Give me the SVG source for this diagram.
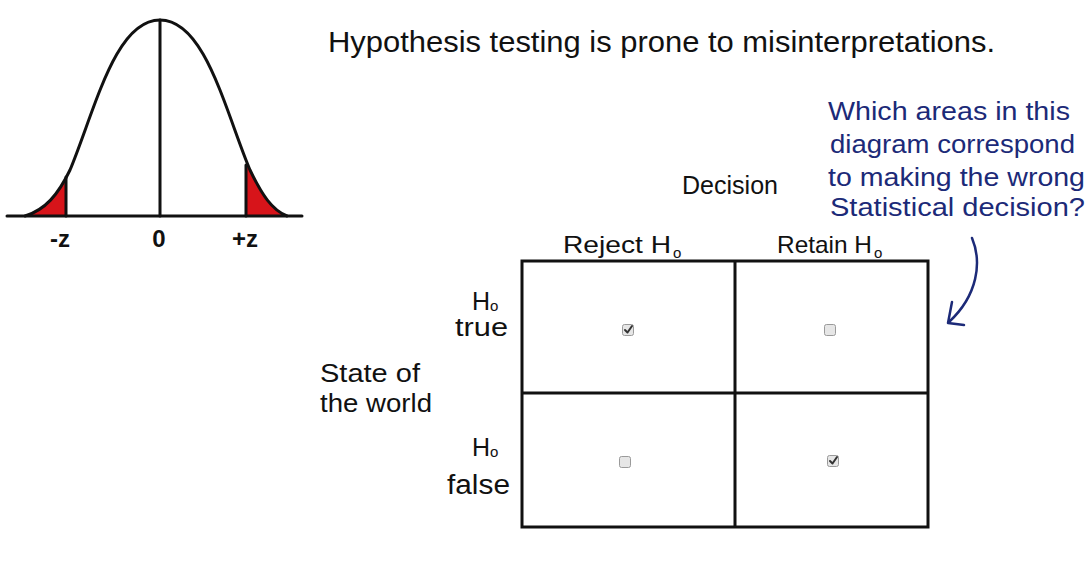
<svg xmlns="http://www.w3.org/2000/svg" width="1090" height="567" viewBox="0 0 1090 567">
<style>
.hw{font-family:"Liberation Sans","DejaVu Sans",sans-serif;fill:#111;}
.blue{font-family:"Liberation Sans","DejaVu Sans",sans-serif;fill:#1c2a78;font-size:25px;}
.ln{stroke:#111;stroke-width:3;fill:none;stroke-linecap:round;}
.cb{fill:#e6e6e6;stroke:#9a9a9a;stroke-width:1;}
.ck{fill:none;stroke:#333;stroke-width:2;stroke-linecap:round;stroke-linejoin:round;}
</style>
<defs>
  <path id="curve" d="M 25 216 C 45 210 58 195 70 170 C 95 110 115 20 160 20 C 205 20 225 110 250 170 C 262 195 272 210 287 216"/>
  <clipPath id="tails">
    <rect x="0" y="0" width="66" height="230"/>
    <rect x="246" y="0" width="60" height="230"/>
  </clipPath>
</defs>
<rect width="1090" height="567" fill="#fff"/>
<g id="bell-curve">
  <use href="#curve" fill="#d7141a" clip-path="url(#tails)"/>
  <use href="#curve" class="ln"/>
  <line class="ln" x1="7" y1="216" x2="302" y2="216"/>
  <line class="ln" x1="160" y1="20" x2="160" y2="216"/>
  <line class="ln" x1="66" y1="177" x2="66" y2="216"/>
  <line class="ln" x1="246" y1="165" x2="246" y2="216"/>
  <text class="hw" x="60" y="247" font-size="24" font-weight="bold" text-anchor="middle">-z</text>
  <text class="hw" x="159" y="247" font-size="24" font-weight="bold" text-anchor="middle">0</text>
  <text class="hw" x="245" y="247" font-size="24" font-weight="bold" text-anchor="middle">+z</text>
</g>
<g id="title">
  <text class="hw" x="328" y="52" font-size="30" textLength="667" lengthAdjust="spacingAndGlyphs">Hypothesis testing is prone to misinterpretations.</text>
</g>
<g id="question">
  <text class="blue" x="828" y="120" textLength="242" lengthAdjust="spacingAndGlyphs">Which areas in this</text>
  <text class="blue" x="830" y="153" textLength="245" lengthAdjust="spacingAndGlyphs">diagram correspond</text>
  <text class="blue" x="828" y="186" textLength="257" lengthAdjust="spacingAndGlyphs">to making the wrong</text>
  <text class="blue" x="830" y="216" textLength="255" lengthAdjust="spacingAndGlyphs">Statistical decision?</text>
</g>
<g id="connectors">
  <path d="M 972 238 C 982 262 978 295 949 322" fill="none" stroke="#1c2a78" stroke-width="2.5" stroke-linecap="round"/>
  <path d="M 952 302 L 948 323 L 964 325" fill="none" stroke="#1c2a78" stroke-width="2.5" stroke-linecap="round" stroke-linejoin="round"/>
</g>
<g id="decision-label">
  <text class="hw" x="682" y="194" font-size="26" textLength="96" lengthAdjust="spacingAndGlyphs">Decision</text>
</g>
<g id="col-reject">
  <text class="hw" x="563" y="253" font-size="24" textLength="108" lengthAdjust="spacingAndGlyphs">Reject H</text>
  <text class="hw" x="673" y="258" font-size="15">o</text>
</g>
<g id="col-retain">
  <text class="hw" x="777" y="253" font-size="24" textLength="95" lengthAdjust="spacingAndGlyphs">Retain H</text>
  <text class="hw" x="874" y="258" font-size="15">o</text>
</g>
<g id="state-label">
  <text class="hw" x="320" y="382" font-size="25" textLength="100" lengthAdjust="spacingAndGlyphs">State of</text>
  <text class="hw" x="320" y="412" font-size="25" textLength="112" lengthAdjust="spacingAndGlyphs">the world</text>
</g>
<g id="row-true">
  <text class="hw" x="472" y="310" font-size="25">H</text>
  <text class="hw" x="490" y="311" font-size="15">o</text>
  <text class="hw" x="455" y="336" font-size="25" textLength="53" lengthAdjust="spacingAndGlyphs">true</text>
</g>
<g id="row-false">
  <text class="hw" x="472" y="456" font-size="25">H</text>
  <text class="hw" x="490" y="457" font-size="15">o</text>
  <text class="hw" x="447" y="494" font-size="27" textLength="63" lengthAdjust="spacingAndGlyphs">false</text>
</g>
<g id="table">
  <rect x="522" y="261" width="406" height="266" fill="none" stroke="#111" stroke-width="3"/>
  <line x1="735" y1="261" x2="735" y2="527" stroke="#111" stroke-width="3"/>
  <line x1="522" y1="393" x2="928" y2="393" stroke="#111" stroke-width="3"/>
</g>
<g id="cell-reject-true">
  <rect class="cb" x="622.5" y="324.5" width="11" height="11" rx="2"/>
  <path class="ck" d="M 625 330 L 627.5 332.5 L 632 326"/>
</g>
<g id="cell-retain-true">
  <rect class="cb" x="824.5" y="324.5" width="11" height="11" rx="2"/>
</g>
<g id="cell-reject-false">
  <rect class="cb" x="619.5" y="456.5" width="11" height="11" rx="2"/>
</g>
<g id="cell-retain-false">
  <rect class="cb" x="827.5" y="455.5" width="11" height="11" rx="2"/>
  <path class="ck" d="M 830 461 L 832.5 463.5 L 837 457"/>
</g>
</svg>
